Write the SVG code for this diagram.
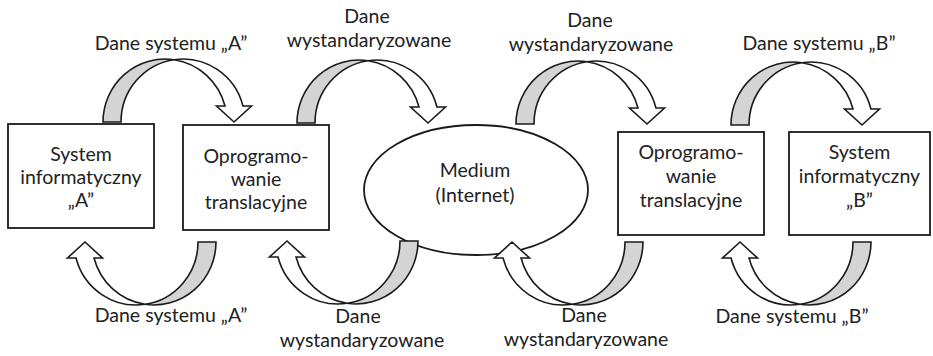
<svg xmlns="http://www.w3.org/2000/svg" width="933" height="356" viewBox="0 0 933 356">
  <style>
    .box { fill: #ffffff; stroke: #1a1a1a; stroke-width: 1.8; }
    .lbl { font-family: Lato, "Open Sans", "Liberation Sans", sans-serif; font-size: 19.5px; fill: #222222; text-anchor: middle; }
    .back { fill: #d4d4d4; stroke: #1a1a1a; stroke-width: 1.6; stroke-linejoin: miter; }
    .front { fill: #ffffff; stroke: #1a1a1a; stroke-width: 1.6; stroke-linejoin: miter; }
  </style>
  <defs>
    <!-- curved block arrow: grey back leg rising from the origin, white front leg ending in a downward head -->
    <g id="curvedArrow">
      <path class="back" d="M0,0 A62,63 0 0 1 71,-62.33 A62,63 0 0 0 18,0 Z"/>
      <path class="front" d="M71,-62.33 A62,63 0 0 1 139.97,-16 L148.5,-16 L131,0 L113.5,-16 L121.97,-16 A62,63 0 0 0 71,-62.33 Z"/>
    </g>
  </defs>

  <rect width="933" height="356" fill="#ffffff"/>

  <!-- nodes -->
  <g id="systemA">
    <rect class="box" x="8" y="124" width="146" height="104"/>
    <text class="lbl" x="81" y="161">System</text>
    <text class="lbl" x="81" y="184">informatyczny</text>
    <text class="lbl" x="81" y="207">„A”</text>
  </g>
  <g id="translatorA">
    <rect class="box" x="183" y="125" width="146" height="105"/>
    <text class="lbl" x="256" y="163">Oprogramo-</text>
    <text class="lbl" x="256" y="186">wanie</text>
    <text class="lbl" x="256" y="209">translacyjne</text>
  </g>
  <g id="medium">
    <ellipse class="box" cx="476" cy="190" rx="112" ry="65"/>
    <text class="lbl" x="475" y="177">Medium</text>
    <text class="lbl" x="475" y="202">(Internet)</text>
  </g>
  <g id="translatorB">
    <rect class="box" x="618" y="132" width="146" height="103"/>
    <text class="lbl" x="691" y="159">Oprogramo-</text>
    <text class="lbl" x="691" y="183">wanie</text>
    <text class="lbl" x="691" y="207">translacyjne</text>
  </g>
  <g id="systemB">
    <rect class="box" x="789" y="132" width="141" height="103"/>
    <text class="lbl" x="859.5" y="159">System</text>
    <text class="lbl" x="859.5" y="183">informatyczny</text>
    <text class="lbl" x="859.5" y="207">„B”</text>
  </g>

  <!-- connectors -->
  <g id="connectors">
    <use href="#curvedArrow" transform="translate(103,122)"/>
    <use href="#curvedArrow" transform="translate(297,123)"/>
    <use href="#curvedArrow" transform="translate(516,124)"/>
    <use href="#curvedArrow" transform="translate(731,125)"/>
    <use href="#curvedArrow" transform="translate(216,242) rotate(180)"/>
    <use href="#curvedArrow" transform="translate(418,241) rotate(180)"/>
    <use href="#curvedArrow" transform="translate(643,242) rotate(180)"/>
    <use href="#curvedArrow" transform="translate(871,242) rotate(180)"/>

    <text class="lbl" x="171" y="50">Dane systemu „A”</text>
    <text class="lbl" x="367" y="23">Dane</text>
    <text class="lbl" x="369" y="47">wystandaryzowane</text>
    <text class="lbl" x="590" y="27">Dane</text>
    <text class="lbl" x="591" y="51">wystandaryzowane</text>
    <text class="lbl" x="819" y="50">Dane systemu „B”</text>

    <text class="lbl" x="171" y="322">Dane systemu „A”</text>
    <text class="lbl" x="358" y="323">Dane</text>
    <text class="lbl" x="362" y="347">wystandaryzowane</text>
    <text class="lbl" x="584" y="322">Dane</text>
    <text class="lbl" x="586" y="346">wystandaryzowane</text>
    <text class="lbl" x="792" y="323">Dane systemu „B”</text>
  </g>
</svg>
